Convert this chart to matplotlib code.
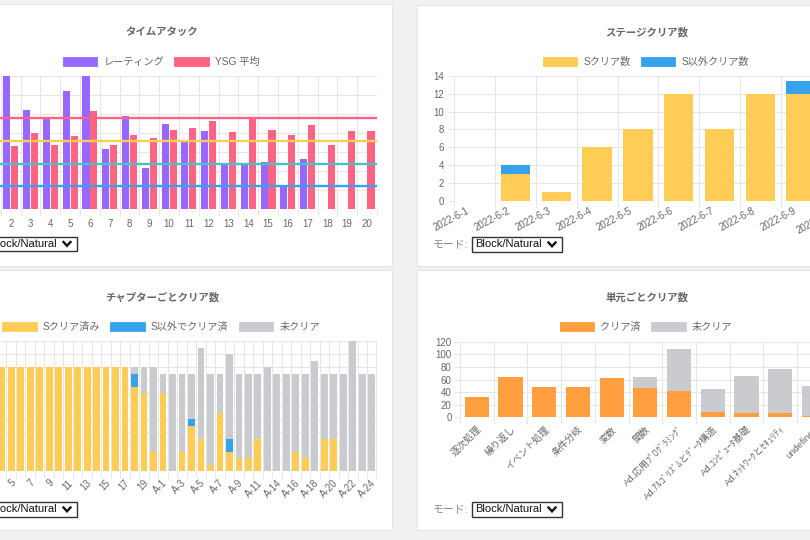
import matplotlib
matplotlib.use('Agg')
import matplotlib.pyplot as plt
from matplotlib.patches import Rectangle, Patch
from matplotlib.lines import Line2D
from matplotlib.transforms import ScaledTranslation
import numpy as np

plt.rcParams['font.family'] = ['Liberation Sans', 'Noto Sans CJK JP', 'DejaVu Sans']

# ---------------- data ----------------
# タイムアタック
ta_labels = [str(i) for i in range(1, 21)]
ta_rating = [2800, 3490, 2620, 2370, 3110, 3500, 1580, 2460, 1090, 2230,
             1770, 2050, 1180, 1180, 1250, 600, 1310, 0, 0, 0]
ta_ysg = [1900, 1670, 2010, 1700, 1930, 2570, 1680, 1940, 1880, 2080,
          2130, 2320, 2020, 2370, 2070, 1950, 2210, 1680, 2050, 2050]
ta_levels = [2400, 1800, 1200, 600]

# ステージクリア数
st_dates = ['2022-6-1', '2022-6-2', '2022-6-3', '2022-6-4', '2022-6-5',
            '2022-6-6', '2022-6-7', '2022-6-8', '2022-6-9', '2022-6-10']
st_s = [0, 3, 1, 6, 8, 12, 8, 12, 12, 0]
st_other = [0, 1, 0, 0, 0, 0, 0, 0, 1.4, 0]

# チャプターごとクリア数
ch_labels = [str(i) for i in range(1, 21)] + ['A-%d' % i for i in range(1, 13)] + ['A-%d' % i for i in range(14, 25)]
ch_s = [16] * 17 + [13, 12, 3] + [12, 0, 3, 7, 5, 1, 9, 3, 2, 2, 5, 0,
                                   0, 0, 3, 2, 0, 5, 5, 0, 0, 0, 0]
ch_other = [0] * 17 + [2, 0, 0] + [0, 0, 0, 1, 0, 0, 0, 2, 0, 0, 0, 0,
                                    0, 0, 0, 0, 0, 0, 0, 0, 0, 0, 0]
ch_none = [0] * 17 + [1, 4, 13] + [3, 15, 12, 7, 14, 14, 6, 13, 13, 13, 10, 16,
                                   15, 15, 12, 13, 17, 10, 10, 15, 20, 15, 15]

# 単元ごとクリア数
un_labels = ['逐次処理', '繰り返し', 'イベント処理', '条件分岐', '変数', '関数',
             'Ad.応用ﾌﾟﾛｸﾞﾗﾐﾝｸﾞ', 'Ad.ｱﾙｺﾞﾘｽﾞﾑとﾃﾞｰﾀ構造', 'Ad.ｺﾝﾋﾟｭｰﾀ基礎',
             'Ad.ﾈｯﾄﾜｰｸとｾｷｭﾘﾃｨ', 'undefined']
un_clear = [32, 64, 48, 48, 63, 47, 41, 9, 7, 7, 2]
un_none = [0, 0, 0, 0, 0, 17, 68, 36, 58, 69, 48]

# ---------------- style ----------------
W, H = 810, 540
PURPLE = '#9966ff'
PINK = '#ff6384'
YELLOW = '#ffcd56'
TEAL = '#4bc0c0'
BLUE = '#36a2eb'
ORANGE = '#ff9f40'
GREY = '#c9cbcf'
GRID = '#e6e6e6'
ZERO = '#c4c4c4'
TXT = '#666666'
TICK_FS = 7.0

fig = plt.figure(figsize=(8.1, 5.4), dpi=100)
fig.patch.set_facecolor('#f1f1f4')


def frect(l, t, r, b):
    return [l / W, 1 - b / H, (r - l) / W, (b - t) / H]


def card(l, t, r, b):
    fig.add_artist(Rectangle((l / W, 1 - b / H), (r - l) / W, (b - t) / H,
                             transform=fig.transFigure, fc='white',
                             ec='#e3e3e8', lw=0.8, zorder=-1))


def style(ax, n, nslots, ymax, ystep, ypad=2.5):
    ax.set_facecolor('white')
    ax.set_xlim(-0.5, nslots - 0.5)
    ax.set_ylim(0, ymax)
    ax.set_yticks(np.arange(0, ymax + ystep / 2, ystep))
    ax.set_xticks(np.arange(n))
    ax.set_xticks(np.arange(-0.5, nslots, 1.0), minor=True)
    for s in ax.spines.values():
        s.set_visible(False)
    ax.set_axisbelow(True)
    ax.grid(True, which='minor', axis='x', color=GRID, lw=0.75)
    ax.grid(True, which='major', axis='y', color=GRID, lw=0.75)
    ax.grid(False, which='major', axis='x')
    ax.tick_params(axis='x', which='major', length=0, labelcolor=TXT, labelsize=TICK_FS)
    ax.tick_params(axis='x', which='minor', length=5, color=GRID, width=0.75)
    ax.tick_params(axis='y', which='major', length=4.5, color=GRID, width=0.75,
                   labelcolor=TXT, labelsize=TICK_FS, pad=ypad)
    ax.axhline(0, color=ZERO, lw=0.75, zorder=1.5)


def shift_labels(ax, dx_px, dy_px=0):
    off = ScaledTranslation(dx_px / 100, -dy_px / 100, fig.dpi_scale_trans)
    for lab in ax.get_xticklabels():
        lab.set_transform(lab.get_transform() + off)


def title(cx, cy, text):
    fig.text(cx / W, 1 - cy / H, text, ha='center', va='center', fontsize=7.5,
             fontweight='bold', color=TXT)


def legend(cx, cy, colors, labels):
    hs = [Patch(facecolor=c, edgecolor=c, lw=0.6) for c in colors]
    fig.legend(hs, labels, loc='center', bbox_to_anchor=(cx / W, 1 - cy / H),
               ncol=len(hs), frameon=False, fontsize=7.3, handlelength=3.4,
               handleheight=1.0, handletextpad=0.6, columnspacing=1.0,
               borderpad=0, labelcolor=TXT)


def select(l, t, r, b):
    fig.add_artist(Rectangle((l / W, 1 - b / H), (r - l) / W, (b - t) / H,
                             transform=fig.transFigure, fc='white', ec='#333333',
                             lw=1.0, zorder=3))
    cy = (t + b) / 2
    fig.text((l + 3) / W, 1 - cy / H, 'Block/Natural', ha='left', va='center',
             fontsize=8.0, color='#111111', zorder=4)
    fig.text((l - 4) / W, 1 - cy / H, 'モード:', ha='right', va='center',
             fontsize=7.8, color='#8a8a8a', zorder=4)
    cx = r - 10
    xs = [cx - 3.5, cx, cx + 3.5]
    ys = [cy - 2, cy + 1.8, cy - 2]
    fig.add_artist(Line2D([x / W for x in xs], [1 - y / H for y in ys],
                          transform=fig.transFigure, color='#111111', lw=1.7,
                          solid_joinstyle='miter', zorder=4))


# cards
card(-68, 4, 392, 266)
card(417, 5, 877, 266)
card(-68, 270, 392, 530)
card(417, 270, 877, 530)

# ---------------- タイムアタック ----------------
ax1 = fig.add_axes(frect(-18.9, 76, 376.9, 209.3))
style(ax1, 20, 20, 3500, 500)
x = np.arange(20)
ax1.bar(x - 0.2, ta_rating, width=0.36, color=PURPLE, lw=0, zorder=2)
ax1.bar(x + 0.2, ta_ysg, width=0.36, color=PINK, lw=0, zorder=2)
for lv, c in zip(ta_levels, [PINK, YELLOW, TEAL, BLUE]):
    ax1.axhline(lv, color=c, lw=1.7, zorder=3)
ax1.set_xticklabels(ta_labels)
ax1.tick_params(axis='x', which='major', pad=7)
title(162, 32, 'タイムアタック')
legend(161, 62, [PURPLE, PINK], ['レーティング', 'YSG 平均'])
select(-13, 237, 77, 251)

# ---------------- ステージクリア数 ----------------
ax2 = fig.add_axes(frect(454.3, 76, 862.3, 200.7))
style(ax2, 10, 10, 14, 2, ypad=3)
x = np.arange(10)
ax2.bar(x, st_s, width=0.72, color=YELLOW, lw=0, zorder=2)
ax2.bar(x, st_other, bottom=st_s, width=0.72, color=BLUE, lw=0, zorder=2)
ax2.set_xticklabels(st_dates, rotation=28, ha='right', va='center',
                    rotation_mode='anchor')
ax2.tick_params(axis='x', which='major', pad=7)
shift_labels(ax2, -6)
title(647, 32, 'ステージクリア数')
legend(646, 62, [YELLOW, BLUE], ['Sクリア数', 'S以外クリア数'])
select(472, 237, 562, 252)

# ---------------- チャプターごとクリア数 ----------------
ax3 = fig.add_axes(frect(-31.5, 341, 376.5, 471))
n3 = len(ch_labels)
style(ax3, n3, n3, 20, 2)
x = np.arange(n3)
s = np.array(ch_s, dtype=float)
o = np.array(ch_other, dtype=float)
ax3.bar(x, s, width=0.72, color=YELLOW, lw=0, zorder=2)
ax3.bar(x, o, bottom=s, width=0.72, color=BLUE, lw=0, zorder=2)
ax3.bar(x, ch_none, bottom=s + o, width=0.72, color=GREY, lw=0, zorder=2)
ax3.set_xticklabels([lab if i % 2 == 0 else '' for i, lab in enumerate(ch_labels)],
                    rotation=45, ha='right', va='center', rotation_mode='anchor')
ax3.tick_params(axis='x', which='major', pad=7.5)
shift_labels(ax3, 3)
title(162, 297, 'チャプターごとクリア数')
legend(161, 327, [YELLOW, BLUE, GREY], ['Sクリア済み', 'S以外でクリア済', '未クリア'])
select(-13, 502, 77, 517)

# ---------------- 単元ごとクリア数 ----------------
ax4 = fig.add_axes(frect(460, 341.7, 864.4, 417.3))
style(ax4, len(un_labels), 12, 120, 20, ypad=1.5)
x = np.arange(len(un_labels))
ax4.bar(x, un_clear, width=0.72, color=ORANGE, lw=0, zorder=2)
ax4.bar(x, un_none, bottom=un_clear, width=0.72, color=GREY, lw=0, zorder=2)
ax4.set_xticklabels(un_labels, rotation=45, ha='right', va='center',
                    rotation_mode='anchor', fontsize=6.8)
ax4.tick_params(axis='x', which='major', pad=7.5)
shift_labels(ax4, 3)
title(647, 297, '単元ごとクリア数')
legend(646, 327, [ORANGE, GREY], ['クリア済', '未クリア'])
select(472, 502, 562, 517)

fig.savefig('out.png', dpi=100, facecolor=fig.get_facecolor())
